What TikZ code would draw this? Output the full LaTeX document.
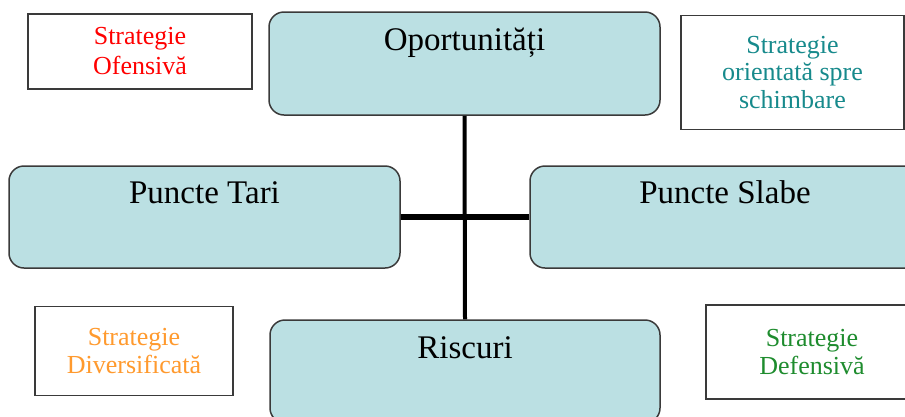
\documentclass[tikz,border=0pt]{standalone}
\usepackage{fontspec}
\setmainfont{Liberation Serif}
\definecolor{boxfill}{HTML}{BBE0E3}
\definecolor{boxline}{HTML}{3A3A3A}
\definecolor{cRed}{HTML}{FF0000}
\definecolor{cTeal}{HTML}{178A8C}
\definecolor{cOrange}{HTML}{FF9A2E}
\definecolor{cGreen}{HTML}{1E8C2E}
\tikzset{
  mainbox/.style={draw=boxline, line width=1.5pt, fill=boxfill, rounded corners=15pt,
    inner sep=0pt, text height=38pt, text depth=64pt,
    font=\fontsize{33}{36}\selectfont, anchor=center},
  stratbox/.style={draw=boxline, line width=1.2pt, fill=white, inner sep=0pt,
    align=center, font=\fontsize{26}{28}\selectfont, anchor=center},
  conn/.style={draw=black, line width=4pt}
}
\begin{document}
\begin{tikzpicture}[x=1pt,y=-1pt]
\useasboundingbox (0,0) rectangle (905,416);
\clip (0,0) rectangle (905,416);
% main boxes
\node[mainbox, minimum width=391pt, minimum height=103pt] (opp) at (464.5,63.5) {Oportunități};
\node[mainbox, minimum width=391pt, minimum height=102pt, text height=37pt] (tari) at (204.5,217) {Puncte Tari};
\node[mainbox, minimum width=390pt, minimum height=102pt, text height=37pt] (slabe) at (725,217) {Puncte Slabe};
\node[mainbox, minimum width=390pt, minimum height=103pt] (risc) at (465,371.5) {Riscuri};
% connectors
\draw[conn] (opp.south) -- (risc.north);
\draw[conn, line width=5.5pt] (tari.east) -- (slabe.west);
% strategy boxes
\node[stratbox, text=cRed, minimum width=224pt, minimum height=75pt, font=\fontsize{26}{30}\selectfont] (ofens) at (140,51.5) {Strategie\\Ofensivă};
\node[stratbox, text=cTeal, minimum width=223pt, minimum height=114pt, font=\fontsize{26}{27.5}\selectfont] (orient) at (792.5,72.5) {Strategie\\orientată spre\\schimbare};
\node[stratbox, text=cOrange, minimum width=198pt, minimum height=89pt] (divers) at (134,351) {Strategie\\Diversificată};
\node[stratbox, text=cGreen, minimum width=212pt, minimum height=94pt] (defens) at (812,352) {Strategie\\Defensivă};
\end{tikzpicture}
\end{document}
